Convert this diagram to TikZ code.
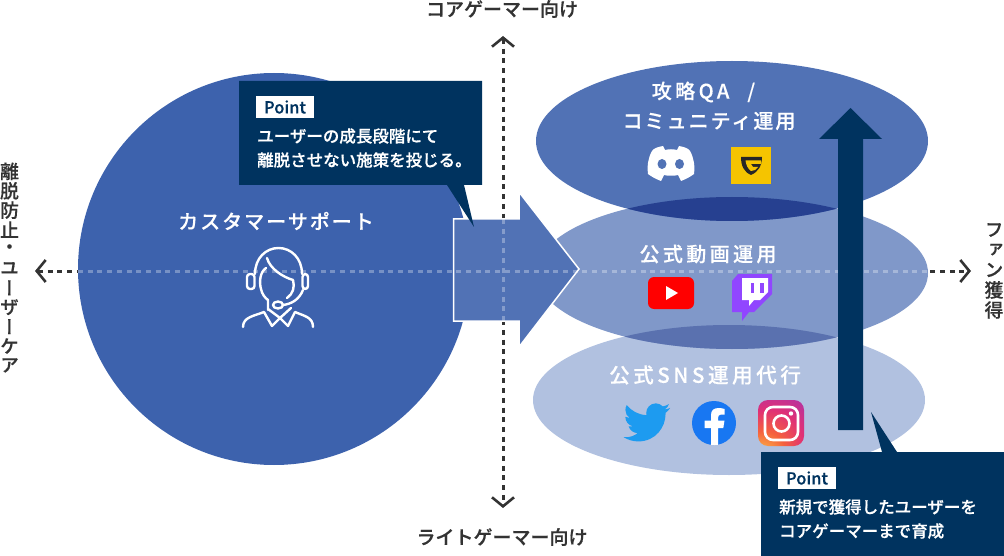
\documentclass[tikz,border=0pt]{standalone}
\usepackage{fontspec}
\setmainfont[FakeBold=0.5]{Noto Sans CJK JP Medium}
\newfontfamily\labelfont[LetterSpace=10,FakeBold=0.25]{Noto Sans CJK JP Medium}
\newfontfamily\widefont[LetterSpace=17,FakeBold=0.25]{Noto Sans CJK JP Medium}
\newfontfamily\tatefont[RawFeature={+vert},FakeBold=0.5]{Noto Sans CJK JP Medium}
\usetikzlibrary{arrows.meta}

\definecolor{navy}{HTML}{00335F}
\definecolor{inkgray}{HTML}{333333}
\definecolor{circleblue}{HTML}{3D62AD}
\definecolor{topblue}{HTML}{5172B5}
\definecolor{midblue}{HTML}{8098C9}
\definecolor{lowblue}{HTML}{B1C1E0}
\definecolor{topoverlap}{HTML}{264090}
\definecolor{lowoverlap}{HTML}{5A71AF}
\definecolor{guildgold}{HTML}{F5C400}
\definecolor{twitchpurple}{HTML}{9146FF}
\definecolor{twitterblue}{HTML}{1D9BF0}
\definecolor{facebookblue}{HTML}{1877F2}

\pgfdeclareradialshading{instashade}{\pgfpoint{-28bp}{-48bp}}{%
    rgb(0bp)=(1,0.87,0.36); rgb(10bp)=(0.99,0.72,0.28); rgb(24bp)=(0.96,0.38,0.24);
    rgb(38bp)=(0.88,0.19,0.46); rgb(50bp)=(0.72,0.2,0.62); rgb(60bp)=(0.42,0.3,0.68); rgb(75bp)=(0.36,0.32,0.7)}

\tikzset{
    dashline/.style={inkgray,line width=3pt,dash pattern=on 5pt off 4.7pt,
        {Straight Barb[length=9pt,width=22pt,line width=2.6pt]}-{Straight Barb[length=9pt,width=22pt,line width=2.6pt]}},
    lightdash/.style={white,opacity=0.3,line width=3pt,dash pattern=on 5pt off 4.7pt},
    outerlabel/.style={inkgray,inner sep=0pt,font=\fontsize{19}{19}\selectfont},
    tatelabel/.style={inkgray,inner sep=0pt,font=\tatefont\fontsize{18.8}{18.8}\selectfont},
    itemlabel/.style={white,inner sep=0pt,font=\labelfont\fontsize{20}{29}\selectfont,align=center},
    widelabel/.style={itemlabel,font=\widefont\fontsize{20}{29}\selectfont},
    pointbadge/.style={fill=white,text=navy,inner sep=0pt,minimum width=58pt,minimum height=22pt,font=\fontsize{16.5}{16.5}\selectfont},
    pointtext/.style={white,inner sep=0pt,anchor=west,align=left,font=\fontsize{16.5}{24}\selectfont},
    headset/.style={white,line width=2.4pt,line cap=round,line join=round},
}

\begin{document}
\begin{tikzpicture}[x=1pt,y=-1pt]
    \useasboundingbox (0,0) rectangle (1004,556);

    % axes
    \coordinate (fanleft) at (35,271); \coordinate (fanright) at (971,271);
    \coordinate (coretop) at (503,36); \coordinate (lightend) at (503,508);
    \draw[dashline] (fanleft) -- (fanright);
    \draw[dashline] (coretop) -- (lightend);

    % right hand ellipses
    \fill[lowblue] (729,400) ellipse [x radius=196,y radius=75];
    \fill[midblue] (732,273) ellipse [x radius=196,y radius=76];
    \fill[topblue] (732,141) ellipse [x radius=196,y radius=80];
    \begin{scope}
        \clip (732,141) ellipse [x radius=196,y radius=80];
        \fill[topoverlap] (732,273) ellipse [x radius=196,y radius=76];
    \end{scope}
    \begin{scope}
        \clip (732,273) ellipse [x radius=196,y radius=76];
        \fill[lowoverlap] (729,400) ellipse [x radius=196,y radius=75];
    \end{scope}

    % big circle and arrow
    \fill[circleblue] (274,269) circle (196);
    \draw[white,line width=1.5pt,fill=topblue] (453.5,219) -- (519,219) -- (519,192) -- (579,269) -- (519,347) -- (519,321) -- (453.5,321) -- cycle;

    \coordinate (circleedge) at (78,271); \coordinate (ellipseedge) at (928,271);
    \coordinate (shafttop) at (503,219); \coordinate (shaftend) at (503,321);
    \draw[lightdash] (circleedge) -- (ellipseedge);
    \draw[lightdash] (shafttop) -- (shaftend);

    % labels
    \node[outerlabel] (corelabel) at (502,9) {コアゲーマー向け};
    \node[outerlabel] (lightlabel) at (502,537) {ライトゲーマー向け};
    \foreach \ch [count=\i] in {離,脱,防,止,・,ユ,ー,ザ,ー,ケ,ア} {
        \node[tatelabel] (keep\i) at (9.5,152+19.4*\i) {\ch};
    }
    \foreach \ch [count=\i] in {フ,ァ,ン,獲,得} {
        \node[tatelabel] (fan\i) at (994,210+20*\i) {\ch};
    }
    \node[itemlabel] (supportlabel) at (276,221) {カスタマーサポート};
    \node[widelabel] (guidelabela) at (703.5,92) {攻略QA\hspace{18pt}/};
    \node[itemlabel] (guidelabelb) at (709,121) {コミュニティ運用};
    \node[widelabel] (videolabel) at (708,254) {公式動画運用};
    \node[widelabel,font=\widefont\fontsize{20.6}{29}\selectfont] (snslabel) at (705,375) {公式SNS運用代行};

    % operator
    \draw[headset,rounded corners=3pt] (247,274) rectangle (254.5,289);
    \draw[headset,rounded corners=3pt] (302.5,274) rectangle (308,289);
    \draw[headset] (255,274) .. controls (255,258) and (266,248) .. (278.5,248) .. controls (291,248) and (302,258) .. (302,274);
    \draw[headset] (267,258) .. controls (270,269) and (283,277) .. (293,280) .. controls (295,287) and (293,294) .. (287,298);
    \draw[headset] (266,268) .. controls (260,272) and (259,282) .. (261,289) .. controls (262,294) and (265,298) .. (268,300) -- (268,310);
    \draw[headset] (278,305) ellipse [x radius=5,y radius=3.5];
    \draw[headset] (283,305) .. controls (291,304) and (299,300) .. (303,290);
    \draw[headset] (243,327) .. controls (243,317) and (254,316) .. (264,312) -- (272,326) -- (280,318) -- (288,326) -- (295,312) .. controls (304,316) and (313,317) .. (313,327);
    \draw[headset] (268,309) -- (280,318) -- (291,308);

    % discord
    \fill[white] (663,146) .. controls (658,147) and (654,148) .. (652,151) .. controls (648,158) and (647,166) .. (648,174) .. controls (652,177) and (656,179) .. (661,181) -- (664,175) .. controls (667,176) and (675,176) .. (678,175) -- (681,181) .. controls (686,179) and (690,177) .. (694,174) .. controls (695,166) and (694,158) .. (690,151) .. controls (688,148) and (684,147) .. (679,146) -- (677,150) .. controls (673,149) and (669,149) .. (665,150) -- cycle;
    \fill[topblue] (662,164) ellipse [x radius=4.5,y radius=5];
    \fill[topblue] (679.5,164) ellipse [x radius=4.5,y radius=5];

    % guilded
    \fill[guildgold] (731,147) rectangle (771,184);
    \fill[black!85] (741,157) -- (762,157) .. controls (762,166) and (758,172) .. (751,175) .. controls (744,172) and (741,166) .. (741,157) -- cycle;
    \fill[guildgold] (745.5,160.5) -- (761,160.5) -- (761,164) -- (751,164) -- (753,167) -- (758,167) -- (755,170) -- (751,171) .. controls (748,169) and (746,165) .. (745.5,160.5) -- cycle;

    % youtube
    \fill[red,rounded corners=6pt] (648,277) rectangle (694,309);
    \fill[white] (666,286) -- (678,293) -- (666,300) -- cycle;

    % twitch
    \fill[twitchpurple] (738,274) -- (772,274) -- (772,294) -- (754,312) -- (749,312) -- (742,321) -- (742,312) -- (732,312) -- (732,281) -- cycle;
    \fill[white] (742,278) -- (768,278) -- (768,292) -- (760,300) -- (754,300) -- (749,306) -- (749,300) -- (742,300) -- cycle;
    \fill[twitchpurple] (751,283) rectangle (754,293);
    \fill[twitchpurple] (760,283) rectangle (764,293);

    % twitter
    \begin{scope}[shift={(623.5,399)},x=1.95pt,y=-1.95pt]
        \fill[twitterblue] (23.953,4.57) .. controls (23.06,4.97) and (22.11,5.23) .. (21.128,5.345) .. controls (22.2,4.7) and (22.95,3.75) .. (23.291,2.622) .. controls (22.34,3.177) and (21.286,3.581) .. (20.164,3.806) .. controls (19.2,2.8) and (17.9,2.23) .. (16.57,2.23) .. controls (13.85,2.23) and (11.65,4.43) .. (11.65,7.15) .. controls (11.65,7.54) and (11.69,7.92) .. (11.78,8.288) .. controls (7.69,8.095) and (4.067,6.13) .. (1.64,3.162) .. controls (1.22,3.88) and (0.974,4.73) .. (0.974,5.637) .. controls (0.974,7.347) and (1.844,8.85) .. (3.162,9.733) .. controls (2.35,9.7) and (1.6,9.5) .. (0.934,9.117) -- (0.934,9.177) .. controls (0.934,11.55) and (2.62,13.55) .. (4.88,14.004) .. controls (4.16,14.2) and (3.4,14.23) .. (2.668,14.089) .. controls (3.3,16.07) and (5.14,17.46) .. (7.272,17.506) .. controls (5.58,18.83) and (3.46,19.611) .. (1.17,19.611) .. controls (0.78,19.611) and (0.391,19.588) .. (0,19.544) .. controls (2.18,20.94) and (4.77,21.753) .. (7.557,21.753) .. controls (16.61,21.753) and (21.555,14.257) .. (21.555,7.768) .. controls (21.555,7.558) and (21.555,7.348) .. (21.54,7.138) .. controls (22.5,6.45) and (23.33,5.58) .. (23.953,4.57) -- cycle;
    \end{scope}

    % facebook
    \fill[facebookblue] (714,423) circle (22);
    \fill[white] (711,444.8) -- (711,428) -- (704.5,428) -- (704.5,420.5) -- (711,420.5) -- (711,415) .. controls (711,410) and (714,408) .. (719,408) .. controls (721,408) and (723,408.5) .. (724.5,409) -- (724.5,414.5) -- (721,414.5) .. controls (719,414.5) and (718,416) .. (718,418) -- (718,420.5) -- (724.5,420.5) -- (723.3,428) -- (718,428) -- (718,444.8) .. controls (716,445.1) and (713,445.1) .. (711,444.8) -- cycle;

    % instagram
    \shade[shading=instashade,rounded corners=10pt] (758,400) rectangle (804,446);
    \draw[white,line width=2.6pt,rounded corners=8pt] (765,407) rectangle (798,440);
    \draw[white,line width=2.6pt] (781.5,423.5) circle (8);
    \fill[white] (791,413.5) circle (2.2);

    % growth arrow
    \fill[navy] (850.5,108) -- (882,139) -- (863,139) -- (863,430) -- (838,430) -- (838,139) -- (819,139) -- cycle;

    % point boxes
    \fill[navy] (239,81) -- (482,81) -- (482,185) -- (464,185) -- (474,227) -- (447,185) -- (239,185) -- cycle;
    \node[pointbadge] (pointa) at (285,107) {Point};
    \node[pointtext] (pointtexta) at (257,148) {ユーザーの成長段階にて\\離脱させない施策を投じる。};

    \fill[navy] (761,452) -- (882,452) -- (871,412) -- (897,452) -- (1004,452) -- (1004,556) -- (761,556) -- cycle;
    \node[pointbadge] (pointb) at (807,478) {Point};
    \node[pointtext] (pointtextb) at (779,519) {新規で獲得したユーザーを\\コアゲーマーまで育成};
\end{tikzpicture}
\end{document}
